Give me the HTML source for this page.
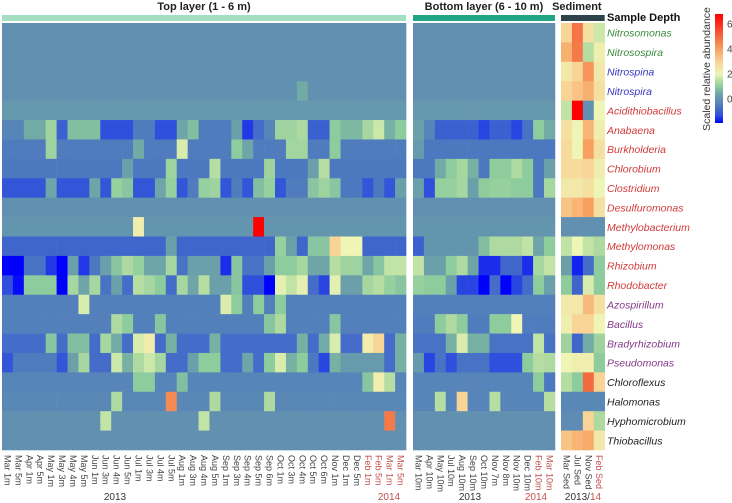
<!DOCTYPE html>
<html><head><meta charset="utf-8">
<style>
html,body{margin:0;padding:0;background:#fff;width:732px;height:503px;overflow:hidden;}
svg{display:block;font-family:"Liberation Sans",Arial,sans-serif;}
</style></head>
<body>
<svg id="chart" width="732" height="503" viewBox="0 0 732 503" xmlns="http://www.w3.org/2000/svg"></svg>
<script>
const genera = ["Nitrosomonas","Nitrosospira","Nitrospina","Nitrospira","Acidithiobacillus","Anabaena","Burkholderia","Chlorobium","Clostridium","Desulfuromonas","Methylobacterium","Methylomonas","Rhizobium","Rhodobacter","Azospirillum","Bacillus","Bradyrhizobium","Pseudomonas","Chloroflexus","Halomonas","Hyphomicrobium","Thiobacillus"];
const generaGroup = [0,0,1,1,2,2,2,2,2,2,2,2,2,2,3,3,3,3,4,4,4,4];
const topSamples = ["Mar 1m","Mar 5m","Apr 1m","Apr 5m","May 1m","May 3m","May 4m","May 5m","Jun 1m","Jun 3m","Jun 4m","Jun 5m","Jul 1m","Jul 3m","Jul 4m","Jul 5m","Aug 1m","Aug 3m","Aug 4m","Aug 5m","Sep 1m","Sep 3m","Sep 4m","Sep 5m","Sep 6m","Oct 1m","Oct 3m","Oct 4m","Oct 5m","Oct 6m","Nov 1m","Dec 1m","Dec 5m","Feb 1m","Feb 5m","Mar 1m","Mar 5m"];
const topIs2014 = [0,0,0,0,0,0,0,0,0,0,0,0,0,0,0,0,0,0,0,0,0,0,0,0,0,0,0,0,0,0,0,0,0,1,1,1,1];
const bottomSamples = ["Mar 10m","Apr 10m","May 10m","Jul 10m","Aug 10m","Sep 10m","Oct 10m","Nov 7m","Nov 8m","Nov 10m","Dec 10m","Feb 10m","Mar 10m"];
const bottomIs2014 = [0,0,0,0,0,0,0,0,0,0,0,1,1];
const sedSamples = ["Mar Sed","Jul Sed","Nov Sed","Feb Sed"];
const sedIs2014 = [0,0,0,1];
const colorTicks = [0,2,4,6];

function z(n){return new Array(n).fill(0);}
function fill(n,v){return new Array(n).fill(v);}
function setv(a,idx,v){idx.forEach(i=>a[i]=v);return a;}

// Top layer values (22 rows x 37 cols)
const topValues = [];
topValues.push(z(37));
topValues.push(z(37));
topValues.push(z(37));
topValues.push(setv(z(37),[27],0.5));
topValues.push(fill(37,0.15));
topValues.push([-0.3,-0.3,0.5,0.5,1.2,-1,0.8,0.8,0.8,-1.3,-1.3,-1.3,-0.5,-0.5,-1.3,-1.3,0.4,0.8,-0.5,-0.5,-0.5,0.3,-1.5,-0.8,-0.3,1.2,1.2,1.4,-1,-1,1.0,0.7,0.7,1.3,1.7,0.6,1.0]);
topValues.push(setv(setv(setv(setv(setv(setv(fill(37,-0.5),[4],1.2),[12],0.5),[16],1.8),[21,30],1.0),[22],0.4),[26,27],1.25));
topValues.push(setv(setv(setv(setv(fill(37,-0.6),[11,28],0.3),[15,24],1.2),[19,29],1.5),[],0));
topValues.push([-1.2,-1.2,-1.2,-1.2,0.4,-1.2,-1.2,-1.2,0.4,-1.2,1.1,0.9,-1.2,-1.2,0.4,1.1,-1.2,-0.5,1.1,1.2,-1.2,-0.5,-1.2,0.8,1.1,-1.2,-0.5,-0.5,0.9,1.2,0.9,-0.6,-0.6,-1.2,-0.6,-1.2,0.3]);
topValues.push(z(37));
topValues.push(setv(setv(fill(37,0.1),[12],2.2),[23],6.8));
topValues.push(setv(setv(setv(setv(setv(setv(fill(37,-0.9),[15,26],0.3),[25],1.1),[28,29],0.9),[30],3.0),[31,32],2.0),[],0));
topValues.push([-2,-2,-0.7,-0.7,-1.5,-2,0.3,-1.5,-0.6,0.3,0.9,1.4,1.1,0.4,0.4,1.3,-0.7,0.3,0.3,0.3,-1.6,0.9,-0.7,-0.7,0.3,1.0,1.0,1.3,0.4,0.4,1.5,1.2,1.2,0.4,0.9,1.6,1.6]);
topValues.push([-1.3,-1.9,1.0,1.0,1.0,-2,1.3,0.4,1.3,-0.7,0.3,-0.8,1.5,1.3,1.0,-0.8,1.3,0.4,1.5,0.3,0.3,0.9,-1.3,-1.3,-2,1.9,1.6,1.9,-0.8,-1.4,1.9,0.3,0.3,1.3,1.5,1.1,0.9]);
topValues.push(setv(setv(setv(fill(37,-0.4),[7],1.8),[20],1.8),[21,23,25],1.0));
topValues.push(setv(setv(setv(fill(37,-0.4),[10,25],1.4),[11],1.0),[14,24,30],0.9));
topValues.push([-0.8,-0.8,-0.8,-0.8,0.9,-0.8,0.8,0.8,-0.8,1.3,0.5,-0.8,1.8,2.3,-0.8,0.6,-0.8,-0.8,-0.8,0.6,-0.8,-0.8,-0.8,-0.8,-0.8,-0.8,-0.8,0.6,-0.8,0.5,1.8,-0.8,-0.8,2.3,3.0,-0.8,0.6]);
topValues.push([-1.2,-0.5,-0.5,-0.5,-0.5,-1.2,0.3,1.3,-0.8,-0.8,1.7,0.6,1.4,1.7,1.3,-0.8,-0.8,0.3,1.0,1.0,-0.8,-0.8,0.4,-0.8,1.0,1.8,0.6,1.0,-0.6,-1.4,0.6,0.2,0.2,0.2,0.2,-0.8,0.6]);
topValues.push(setv(setv(setv(setv(setv(fill(37,-0.3),[12,13],1.0),[16],0.8),[33],0.9),[34],2.2),[35],1.5));
topValues.push(setv(setv(fill(37,-0.2),[10,19,24],1.4),[15],4.4));
topValues.push(setv(setv(z(37),[9,18],1.6),[35],4.7));
topValues.push(z(37));

// Bottom layer values (22 rows x 13 cols)
const bottomValues = [
 z(13),z(13),z(13),z(13),fill(13,0.15),
 [0.3,-0.3,-1.0,-1.0,-1.0,-1.0,-1.4,-1.0,-1.0,-1.4,-0.7,1.0,0.5],
 [0.2,-0.6,-0.6,-0.6,-0.6,-0.6,-0.6,-0.6,-0.6,-0.6,-0.6,-0.6,-0.6],
 [-0.6,-0.6,0.5,1.0,1.3,0.6,-0.6,1.0,1.0,1.4,1.0,-0.6,0.3],
 [0.3,-1.3,1.1,1.1,1.3,0.3,1.0,1.1,1.1,1.0,1.0,-0.6,1.3],
 z(13),fill(13,0.1),
 [-1.0,0.1,0.1,0.1,0.1,0.1,0.8,1.4,1.4,1.4,1.6,0.4,1.0],
 [1.6,0.3,0.3,1.0,1.4,0.4,-1.6,-1.6,-0.9,-0.9,-1.6,1.3,1.6],
 [1.1,1.0,1.0,0.3,-1.4,-1.4,-2,-0.8,-2,-1.4,-0.8,1.0,0.3],
 fill(13,-0.4),
 [-0.5,-0.5,1.0,1.4,1.0,-0.5,-0.5,1.0,1.0,2.0,-0.5,-0.5,-0.5],
 [-0.7,-0.7,-0.7,0.6,1.8,0.6,0.6,-0.7,-0.7,-0.7,-0.7,1.6,-0.7],
 [0.2,-1.4,-0.7,-1.3,-0.7,-0.7,-0.7,-1.3,-1.3,-1.3,1.0,1.5,1.4],
 [-0.3,-0.3,-0.3,-0.3,-0.3,-0.3,-0.3,-0.3,-0.3,-0.3,-0.3,1.0,-0.6],
 [-0.3,-0.3,1.5,-0.3,3.0,-0.3,-0.3,1.5,-0.3,-0.3,-0.3,-0.3,1.5],
 z(13),z(13)
];

// Sediment values (22 rows x 4 cols)
const sedValues = [
 [3.0,4.8,2.6,1.7],[3.7,4.7,1.5,2.2],[2.4,3.0,4.2,2.4],[3.0,3.3,3.7,2.6],
 [1.6,6.8,0.0,2.0],[2.6,2.0,3.6,2.2],[2.8,2.0,4.0,2.6],[2.8,2.8,3.0,2.2],
 [2.4,2.4,2.6,2.0],[3.3,3.6,4.0,2.6],[0,0,0,0],[1.6,2.0,1.6,1.4],
 [0.3,-1.7,-0.8,1.0],[1.0,-0.9,1.8,1.0],[2.4,2.4,3.5,2.6],[2.2,3.0,3.0,2.0],
 [1.2,-0.9,0.5,1.2],[2.0,2.2,2.2,1.0],[1.5,1.0,5.0,3.0],[-0.2,-0.2,-0.2,-0.2],
 [-0.1,-0.1,3.0,1.4],[3.3,3.6,3.8,2.4]
];

// colour scale
const stops=[[-2,[0,0,255]],[-1.3,[47,79,220]],[-0.6,[76,120,192]],[0,[97,144,177]],[0.5,[114,170,166]],[1,[142,204,158]],[1.5,[182,222,162]],[2,[238,245,181]],[3,[248,212,150]],[4,[248,160,96]],[5,[244,106,64]],[6.8,[255,0,0]]];
function color(v){
  if(v<=stops[0][0]) return 'rgb('+stops[0][1]+')';
  for(let i=1;i<stops.length;i++){
    if(v<=stops[i][0]){
      const a=stops[i-1],b=stops[i],t=(v-a[0])/(b[0]-a[0]);
      return 'rgb('+a[1].map((c,k)=>Math.round(c+(b[1][k]-c)*t)).join(',')+')';
    }
  }
  return 'rgb(255,0,0)';
}

const NS="http://www.w3.org/2000/svg";
const svg=document.getElementById('chart');
function el(tag,attrs,parent){const e=document.createElementNS(NS,tag);for(const k in attrs)e.setAttribute(k,attrs[k]);(parent||svg).appendChild(e);return e;}

const rowTop=23, rowH=(450-23)/22;
function yRow(i){return rowTop+i*rowH;}
const cellW=10.92;

const panels=[
 {name:'top-layer',x0:2,samples:topSamples,vals:topValues,is2014:topIs2014,title:'Top layer (1 - 6 m)',bar:'#a3dfc0'},
 {name:'bottom-layer',x0:413,samples:bottomSamples,vals:bottomValues,is2014:bottomIs2014,title:'Bottom layer (6 - 10 m)',bar:'#22a584'},
 {name:'sediment',x0:561,samples:sedSamples,vals:sedValues,is2014:sedIs2014,title:'Sediment',bar:'#2d4349'}
];

panels.forEach(p=>{
  const g=el('g',{});
  
  
  const n=p.samples.length, w=n*cellW;
  function xCol(j){return p.x0+j*cellW;}
  const bar=el('rect',{x:p.x0,y:15,width:w,height:6,fill:p.bar},g);
  
  
  const t=el('text',{x:p.name==='sediment'?p.x0+w/2-6:p.x0+w/2,y:10,'text-anchor':'middle','font-size':'11','font-weight':'bold',fill:'#222'},g);
  t.textContent=p.title;
  
  
  p.vals.forEach((row,i)=>{
    row.forEach((v,j)=>{
      const r=el('rect',{x:xCol(j).toFixed(2),y:yRow(i).toFixed(2),width:(cellW+0.3).toFixed(2),height:(rowH+0.3).toFixed(2),fill:color(v)},g);
      
      
    });
  });
  p.samples.forEach((s,j)=>{
    const x=xCol(j)+cellW/2-3;
    const tx=el('text',{x:0,y:0,transform:'translate('+x.toFixed(1)+',455) rotate(90)','font-size':'9',fill:p.is2014[j]?'#c0504d':'#444'},g);
    tx.textContent=s;
    
    
  });
});

// year labels
function yearLabel(x,txt,col){
  const t=el('text',{x:x,y:500,'text-anchor':'middle','font-size':'10',fill:col});
  t.textContent=txt;
  
  
}
yearLabel(115,'2013','#333');
yearLabel(389,'2014','#c0504d');
yearLabel(470,'2013','#333');
yearLabel(536,'2014','#c0504d');
const yl=el('text',{x:583,y:500,'text-anchor':'middle','font-size':'10',fill:'#333'});


const ts1=el('tspan',{},yl); ts1.textContent='2013/';
const ts2=el('tspan',{fill:'#c0504d'},yl); ts2.textContent='14';

// row labels
const groupColors=['#3a8a3a','#3535c0','#d03a3a','#843a8a','#222'];
const sd=el('text',{x:607,y:21,'font-size':'11','font-weight':'bold',fill:'#111'});
sd.textContent='Sample Depth';


genera.forEach((gname,i)=>{
  const t=el('text',{x:607,y:(yRow(i)+rowH/2+4).toFixed(1),'font-size':'10.5','font-style':'italic',fill:groupColors[generaGroup[i]]});
  t.textContent=gname;
  
  
});

// colour bar
const cbTop=14, cbBot=123, vTop=6.8, vBot=-1.9;
function yCb(v){return cbBot-(v-vBot)/(vTop-vBot)*(cbBot-cbTop);}
const defs=el('defs',{});
const lg=el('linearGradient',{id:'cbg',x1:0,y1:1,x2:0,y2:0},defs);
stops.forEach(s=>{
  const off=Math.max(0,Math.min(1,(s[0]-vBot)/(vTop-vBot)));
  el('stop',{offset:off.toFixed(3),'stop-color':'rgb('+s[1]+')'},lg);
});
const cb=el('rect',{x:715,y:cbTop,width:8,height:cbBot-cbTop,fill:'url(#cbg)'});


colorTicks.forEach(v=>{
  const t=el('text',{x:727,y:(yCb(v)+3.5).toFixed(1),'font-size':'10',fill:'#444'});
  t.textContent=v;
  
  
});
const ct=el('text',{x:0,y:0,transform:'translate(710,69) rotate(-90)','text-anchor':'middle','font-size':'10.5',fill:'#333'});
ct.textContent='Scaled relative abundance';


</script>
</body></html>
